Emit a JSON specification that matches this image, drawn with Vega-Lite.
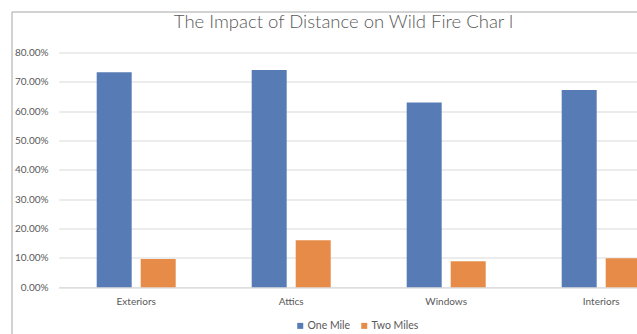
{
  "$schema": "https://vega.github.io/schema/vega-lite/v6.json",
  "width": 630,
  "height": 330,
  "autosize": {"type": "none"},
  "padding": {"left": 11.5, "top": 11.5, "right": -4.5, "bottom": -7.5},
  "background": "white",
  "title": {
    "text": "The Impact of Distance on Wild Fire Char l",
    "anchor": "middle",
    "frame": "group",
    "font": "Lato",
    "fontSize": 18.5,
    "fontWeight": 300,
    "color": "#595959",
    "offset": 0,
    "baseline": "alphabetic",
    "dx": 17,
    "dy": 35
  },
  "data": {
    "values": [
      {"Category": "Exteriors", "Series": "One Mile", "Value": 0.732},
      {"Category": "Exteriors", "Series": "Two Miles", "Value": 0.096},
      {"Category": "Attics", "Series": "One Mile", "Value": 0.740},
      {"Category": "Attics", "Series": "Two Miles", "Value": 0.160},
      {"Category": "Windows", "Series": "One Mile", "Value": 0.629},
      {"Category": "Windows", "Series": "Two Miles", "Value": 0.0885},
      {"Category": "Interiors", "Series": "One Mile", "Value": 0.672},
      {"Category": "Interiors", "Series": "Two Miles", "Value": 0.099}
    ]
  },
  "mark": {"type": "bar", "clip": true},
  "encoding": {
    "x": {
      "field": "Category",
      "type": "nominal",
      "sort": ["Exteriors", "Attics", "Windows", "Interiors"],
      "scale": {"range": [47.2, 667.2], "paddingInner": 0, "paddingOuter": 0},
      "axis": {
        "title": null,
        "orient": "bottom",
        "offset": -54.2,
        "ticks": false,
        "domain": true,
        "domainColor": "#d9d9d9",
        "domainWidth": 1,
        "labelAngle": 0,
        "labelFont": "Lato",
        "labelFontSize": 10,
        "labelColor": "#595959",
        "labelPadding": 9.5,
        "grid": false
      }
    },
    "xOffset": {
      "field": "Series",
      "type": "nominal",
      "sort": ["One Mile", "Two Miles"],
      "scale": {"paddingInner": 0.2045, "paddingOuter": 0.8636}
    },
    "y": {
      "field": "Value",
      "type": "quantitative",
      "scale": {"domain": [0, 0.8], "range": [275.8, 40.8], "nice": false, "zero": true},
      "axis": {
        "title": null,
        "orient": "left",
        "offset": -47.2,
        "domain": false,
        "grid": false,
        "ticks": true,
        "tickSize": -620,
        "tickColor": "#d9d9d9",
        "tickWidth": 1,
        "values": [0, 0.1, 0.2, 0.3, 0.4, 0.5, 0.6, 0.7, 0.8],
        "format": ".2%",
        "labelFont": "Lato",
        "labelFontSize": 10,
        "labelColor": "#595959",
        "labelPadding": 630.7
      }
    },
    "color": {
      "field": "Series",
      "type": "nominal",
      "scale": {"domain": ["One Mile", "Two Miles"], "range": ["#577cb5", "#e68c48"]},
      "legend": {
        "title": null,
        "orient": "none",
        "direction": "horizontal",
        "legendX": 283.5,
        "legendY": 309,
        "padding": 0,
        "symbolType": "square",
        "symbolSize": 36,
        "symbolStrokeWidth": 0,
        "labelFont": "Lato",
        "labelFontSize": 10.5,
        "labelColor": "#595959",
        "labelOffset": 2,
        "columnPadding": 8
      }
    }
  },
  "config": {
    "view": {"stroke": "#a6a6a6", "strokeWidth": 1}
  }
}
